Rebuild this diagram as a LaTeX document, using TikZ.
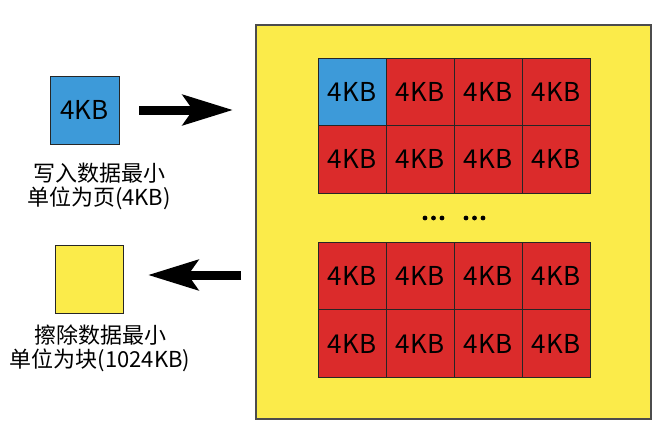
\documentclass[tikz,border=0pt]{standalone}
\usepackage{fontspec}
\setmainfont{Noto Sans CJK SC}
\usetikzlibrary{arrows.meta}
\definecolor{pageblue}{HTML}{3D9AD9}
\definecolor{pagered}{HTML}{DB2B2B}
\definecolor{blockyellow}{HTML}{FBEB4A}
\tikzset{
  cell/.style={draw=black!85, line width=0.8pt, fill=pagered, inner sep=0pt,
    minimum width=68pt, minimum height=67.5pt, font=\fontsize{26}{26}\selectfont},
  note/.style={align=center, font=\fontsize{22}{24}\selectfont},
  bigarrow/.style={line width=9pt, -{Stealth[length=50pt,width=30pt,inset=10pt]}}
}
\begin{document}
\begin{tikzpicture}[x=1pt,y=-1pt]
\useasboundingbox (0,0) rectangle (666,440);
% block
\draw[fill=blockyellow, draw=black!70, line width=1.3pt] (256,25) rectangle (651,419);
\foreach \r in {0,1}
\foreach \c in {0,1,2,3}
{
\node[cell] (top\r\c) at (352+68*\c, 91.75+67.5*\r) {4KB};
\node[cell] (bot\r\c) at (352+68*\c, 276+67.5*\r) {4KB};
}
\node[cell, fill=pageblue] at (top00) {4KB};
\foreach \x in {425,433.5,442,466,474.5,483}
\fill (\x,218) circle (2.4pt);
% page and block on the left
\node[cell, fill=pageblue, minimum width=69pt, minimum height=68pt] (page) at (84.5,110) {4KB};
\node[note] (pagenote) at (99,186) {写入数据最小\\单位为页(4KB)};
\node[cell, fill=blockyellow, minimum width=68pt, minimum height=68pt] (block) at (89,279) {};
\node[note] (blocknote) at (100,348) {擦除数据最小\\单位为块(1024KB)};
% arrows
\coordinate (wfrom) at (139,110);
\coordinate (wto) at (233,110);
\coordinate (efrom) at (241,275);
\coordinate (eto) at (148,275);
\draw[bigarrow] (wfrom) -- (wto);
\draw[bigarrow] (efrom) -- (eto);
\end{tikzpicture}
\end{document}
